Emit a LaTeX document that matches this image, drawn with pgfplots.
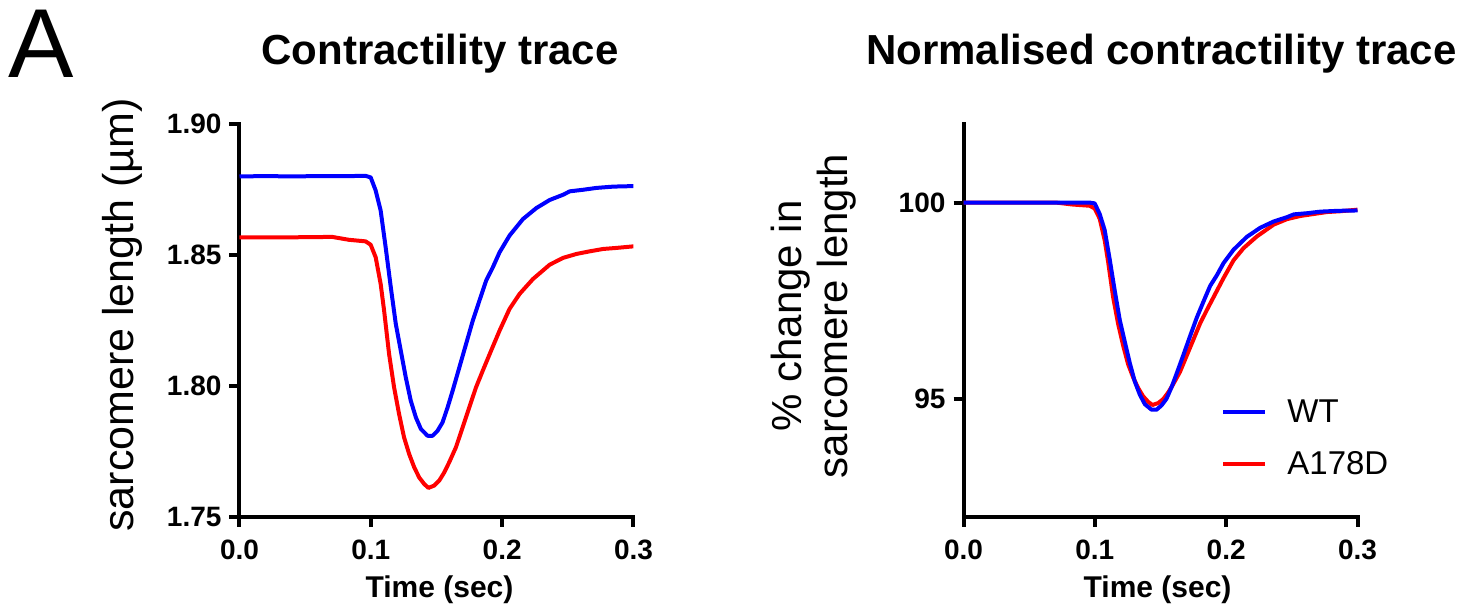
\documentclass[border=0pt]{standalone}
\usepackage{fontspec}
\setmainfont{Liberation Sans}
\usepackage{pgfplots}
\usepackage{pgfplotstable}
\pgfplotsset{compat=1.18}

% tick label typeface
\newcommand\tk[1]{\mbox{\fontsize{14}{16}\selectfont\bfseries #1}}

% Sarcomere length (um) against time (s)
\pgfplotstableread{
t     sl
0.0000 1.8800
0.0200 1.8801
0.0400 1.8800
0.0600 1.8801
0.0800 1.8801
0.0960 1.8802
0.0999 1.8796
0.1037 1.8746
0.1075 1.8669
0.1113 1.8529
0.1152 1.8377
0.1190 1.8237
0.1228 1.8135
0.1266 1.8033
0.1304 1.7944
0.1343 1.7880
0.1381 1.7836
0.1432 1.7810
0.1470 1.7810
0.1508 1.7829
0.1546 1.7861
0.1585 1.7919
0.1623 1.7982
0.1674 1.8071
0.1725 1.8160
0.1776 1.8249
0.1827 1.8326
0.1878 1.8402
0.1929 1.8453
0.1980 1.8510
0.2056 1.8574
0.2158 1.8637
0.2260 1.8679
0.2362 1.8710
0.2464 1.8730
0.2515 1.8743
0.2617 1.8749
0.2718 1.8756
0.2846 1.8761
0.3000 1.8763
}\wtraw

\pgfplotstableread{
t     sl
0.0000 1.8567
0.0324 1.8567
0.0500 1.8568
0.0706 1.8569
0.0833 1.8558
0.0960 1.8552
0.0999 1.8539
0.1037 1.8491
0.1075 1.8389
0.1101 1.8288
0.1139 1.8122
0.1177 1.7995
0.1215 1.7893
0.1253 1.7804
0.1292 1.7740
0.1330 1.7690
0.1368 1.7651
0.1406 1.7626
0.1439 1.7611
0.1483 1.7620
0.1521 1.7639
0.1559 1.7670
0.1597 1.7709
0.1648 1.7766
0.1699 1.7842
0.1750 1.7919
0.1801 1.7995
0.1852 1.8058
0.1916 1.8135
0.1980 1.8211
0.2056 1.8294
0.2132 1.8351
0.2234 1.8408
0.2362 1.8463
0.2464 1.8489
0.2566 1.8504
0.2667 1.8514
0.2769 1.8523
0.2871 1.8527
0.3000 1.8533
}\mutraw

% Length as a percentage of the resting length
\pgfplotstableread{
t     pct
0.0000 100.00
0.0200 100.00
0.0400 100.00
0.0600 100.00
0.0800 100.00
0.0960 100.00
0.0999 99.98
0.1037 99.71
0.1075 99.30
0.1113 98.56
0.1152 97.75
0.1190 97.01
0.1228 96.46
0.1266 95.92
0.1304 95.45
0.1343 95.11
0.1381 94.87
0.1432 94.73
0.1470 94.73
0.1508 94.84
0.1546 95.01
0.1585 95.31
0.1623 95.65
0.1674 96.12
0.1725 96.60
0.1776 97.07
0.1827 97.48
0.1878 97.88
0.1929 98.15
0.1980 98.46
0.2056 98.80
0.2158 99.13
0.2260 99.36
0.2362 99.52
0.2464 99.63
0.2515 99.70
0.2617 99.73
0.2718 99.77
0.2846 99.79
0.3000 99.80
}\wtnorm

\pgfplotstableread{
t     pct
0.0000 100.00
0.0324 100.00
0.0500 100.00
0.0706 100.00
0.0833 99.95
0.0960 99.92
0.0999 99.85
0.1037 99.59
0.1075 99.04
0.1101 98.50
0.1139 97.60
0.1177 96.92
0.1215 96.37
0.1253 95.89
0.1292 95.55
0.1330 95.28
0.1368 95.07
0.1406 94.93
0.1439 94.85
0.1483 94.90
0.1521 95.00
0.1559 95.17
0.1597 95.38
0.1648 95.69
0.1699 96.10
0.1750 96.51
0.1801 96.92
0.1852 97.26
0.1916 97.67
0.1980 98.08
0.2056 98.53
0.2132 98.84
0.2234 99.14
0.2362 99.44
0.2464 99.58
0.2566 99.66
0.2667 99.71
0.2769 99.76
0.2871 99.78
0.3000 99.82
}\mutnorm

\pgfplotsset{
  trace axis/.style={
    scale only axis, width=197pt, height=196.5pt,
    anchor=south west,
    axis x line=bottom, axis y line=left,
    axis line style={-, line width=2pt, line cap=rect, black},
    tick style={line width=2pt, black},
    tick align=outside, major tick length=5pt,
    xmin=0, xmax=0.3,
    xtick={0,0.1,0.2,0.3},
    xticklabels={\tk{0.0},\tk{0.1},\tk{0.2},\tk{0.3}},
    xticklabel style={yshift=-3pt},
    yticklabel style={xshift=-0.5pt},
    xlabel={Time (sec)},
    xlabel style={anchor=base, font=\fontsize{15}{18}\selectfont\bfseries},
    title style={anchor=base, font=\fontsize{21}{25}\selectfont\bfseries},
    ylabel style={font=\fontsize{21.5}{23}\selectfont},
    every axis plot/.append style={line width=2pt, line join=round},
  },
}

\begin{document}
\begin{tikzpicture}
\path[use as bounding box] (0,0) rectangle (740pt,307pt);

\node[anchor=base west, inner sep=0pt, font=\fontsize{49}{50}\selectfont] at (4pt,268pt) {A};

\begin{axis}[trace axis,
  at={(119.75pt,48.5pt)},
  ymin=1.75, ymax=1.90,
  ytick={1.75,1.80,1.85,1.90},
  yticklabels={\tk{1.75},\tk{1.80},\tk{1.85},\tk{1.90}},
  title={Contractility trace},
  title style={at={(axis description cs:0.509,1.1196)}},
  xlabel style={at={(axis description cs:0.5076,-0.2036)}},
  ylabel={sarcomere length (µm)},
  ylabel style={at={(axis description cs:-0.2703,0.514)}, anchor=base},
]
\addplot[red] table[x=t, y=sl] {\mutraw};
\addplot[blue] table[x=t, y=sl] {\wtraw};
\end{axis}

\begin{axis}[trace axis,
  at={(481.75pt,48.5pt)},
  ymin=92, ymax=102,
  ytick={95,100},
  yticklabels={\tk{95},\tk{100}},
  title={Normalised contractility trace},
  title style={at={(axis description cs:0.5025,1.1196)}},
  xlabel style={at={(axis description cs:0.4926,-0.2036)}},
  ylabel={\% change in\\sarcomere length},
  ylabel style={at={(axis description cs:-0.3794,0.5115)}, anchor=center, align=center, font=\fontsize{21}{23}\selectfont},
  reverse legend,
  legend cell align=left,
  legend image code/.code={\draw[#1] (0pt,0pt) -- (21pt,0pt);},
  legend style={draw=none, fill=none, inner sep=0pt, column sep=10pt, row sep=13pt,
    font=\fontsize{16.5}{18}\selectfont,
    nodes={inner sep=0pt},
    at={(axis description cs:0.6536,0.300)}, anchor=north west},
]
\addplot[red] table[x=t, y=pct] {\mutnorm};
\addlegendentry{A178D}
\addplot[blue] table[x=t, y=pct] {\wtnorm};
\addlegendentry{WT}
\end{axis}
\end{tikzpicture}
\end{document}
